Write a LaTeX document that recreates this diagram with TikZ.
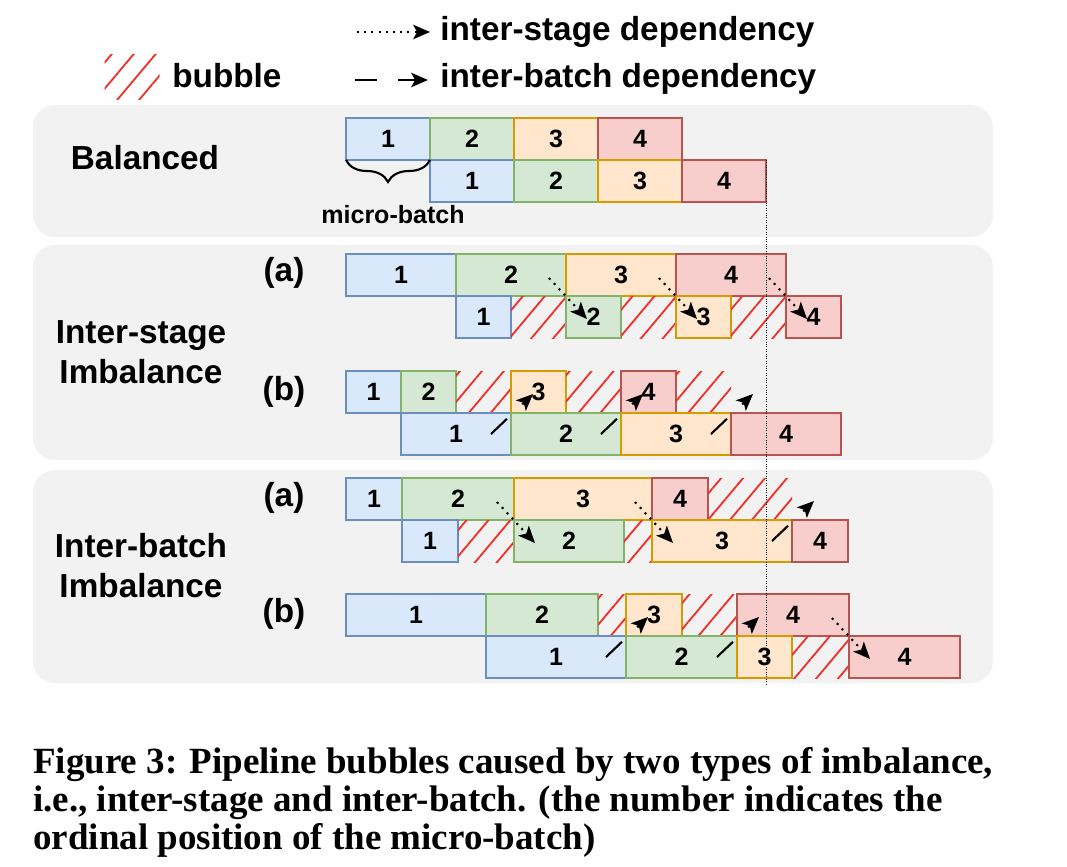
\documentclass[tikz,border=0pt]{standalone}
\usepackage{fontspec}
\setmainfont{Liberation Sans}
\newfontfamily\capfont{Liberation Serif}
\usetikzlibrary{positioning,arrows.meta,patterns.meta,decorations.pathreplacing}
\definecolor{panelgray}{HTML}{F2F2F2}
\definecolor{bluefill}{HTML}{DAE8FC}
\definecolor{blueline}{HTML}{6C8EBF}
\definecolor{greenfill}{HTML}{D5E8D4}
\definecolor{greenline}{HTML}{82B366}
\definecolor{orangefill}{HTML}{FFE6CC}
\definecolor{orangeline}{HTML}{D79B00}
\definecolor{redfill}{HTML}{F8CECC}
\definecolor{redline}{HTML}{B85450}
\definecolor{hatchred}{HTML}{F0302A}
\tikzstyle{mb}=[draw, line width=1.6pt, minimum height=1.05cm, inner sep=0pt,
outer sep=0pt, font=\fontsize{17.8}{20}\selectfont\bfseries]
\tikzstyle{mbblue}=[mb, draw=blueline, fill=bluefill]
\tikzstyle{mbgreen}=[mb, draw=greenline, fill=greenfill]
\tikzstyle{mborange}=[mb, draw=orangeline, fill=orangefill]
\tikzstyle{mbred}=[mb, draw=redline, fill=redfill]
\tikzstyle{bubble}=[minimum height=1.05cm, inner sep=0pt, outer sep=0pt,
pattern={Lines[angle=50,distance=0.42cm,line width=1.3pt]}, pattern color=hatchred]
\tikzstyle{lbl}=[inner sep=0pt, font=\fontsize{23.7}{28.4}\selectfont\bfseries]
\tikzstyle{isdep}=[line width=1.5pt, dash pattern=on 0.05cm off 0.13cm,
-{Stealth[length=0.42cm,width=0.36cm,inset=0.1cm]}]
\tikzstyle{ibdep}=[line width=1.5pt, dash pattern=on 0.55cm off 0.525cm,
-{Stealth[length=0.42cm,width=0.36cm,inset=0.1cm]}]
\tikzstyle{vline}=[line width=0.7pt, densely dotted]
\tikzset{wd/.style={minimum width=#1*0.025cm}}

\begin{document}
\begin{tikzpicture}[x=0.025cm, y=-0.025cm]
            \useasboundingbox (0,0) rectangle (1067,867);

            % panels
            \fill[panelgray, rounded corners=0.55cm] (33,105) rectangle (993,237);
            \fill[panelgray, rounded corners=0.55cm] (33,245) rectangle (993,460);
            \fill[panelgray, rounded corners=0.55cm] (33,470) rectangle (993,683);

            % legend
            \node[bubble, wd=55, minimum height=1.125cm] (lgH) at (132,77) {};
            \node[lbl, anchor=base west] (lgB) at (172,88) {bubble};
            \node[lbl, anchor=base west] (lgS) at (440,41) {inter-stage dependency};
            \node[lbl, anchor=base west] (lgI) at (440,88) {inter-batch dependency};
            \coordinate (lgS0) at (357,32);
            \coordinate (lgI0) at (355,80);
            \path[isdep] (lgS0) edge ([shift={(-10,0)}]lgS.west |- lgS0);
            \path[ibdep] (lgI0) edge ([shift={(-12,0)}]lgI.west |- lgI0);

            % row labels
            \node[lbl] (lBal) at (145,158) {Balanced};
            \node[lbl, align=center] (lIS) at (141,352) {Inter-stage\\Imbalance};
            \node[lbl, align=center] (lIB) at (141,566) {Inter-batch\\Imbalance};
            \node[lbl] (lISa) at (284,273) {(a)};
            \node[lbl] (lISb) at (284,392) {(b)};
            \node[lbl] (lIBa) at (284,498) {(a)};
            \node[lbl] (lIBb) at (284,614) {(b)};

            % Balanced PART

            \node[mbblue, wd=84, anchor=north west] (bA1) at (346,118) {1};
            \node[mbgreen, wd=84, right=0pt of bA1] (bA2) {2};
            \node[mborange, wd=84, right=0pt of bA2] (bA3) {3};
            \node[mbred, wd=84, right=0pt of bA3] (bA4) {4};
            \node[mbblue, wd=84, below right=0pt and 0pt of bA1] (bB1) {1};
            \node[mbgreen, wd=84, right=0pt of bB1] (bB2) {2};
            \node[mborange, wd=84, right=0pt of bB2] (bB3) {3};
            \node[mbred, wd=84, right=0pt of bB3] (bB4) {4};

            \draw[line width=1.5pt, decorate, decoration={brace, amplitude=0.55cm}]
                (bA1.south east) -- (bA1.south west);
            \node[font=\fontsize{17.8}{20}\selectfont\bfseries] (mbtxt) at (393,215) {micro-batch};

            % Inter-stage (a) PART

            \node[mbblue, wd=110, anchor=north west] (isaA1) at (346,254) {1};
            \node[mbgreen, wd=110, right=0pt of isaA1] (isaA2) {2};
            \node[mborange, wd=110, right=0pt of isaA2] (isaA3) {3};
            \node[mbred, wd=110, right=0pt of isaA3] (isaA4) {4};
            \node[mbblue, wd=55, below right=0pt and 0pt of isaA1] (isaB1) {1};
            \node[bubble, wd=55, right=0pt of isaB1] (isaH1) {};
            \node[mbgreen, wd=55, right=0pt of isaH1] (isaB2) {2};
            \node[bubble, wd=55, right=0pt of isaB2] (isaH2) {};
            \node[mborange, wd=55, right=0pt of isaH2] (isaB3) {3};
            \node[bubble, wd=55, right=0pt of isaB3] (isaH3) {};
            \node[mbred, wd=55, right=0pt of isaH3] (isaB4) {4};

            % Inter-stage (b) PART

            \node[mbblue, wd=55, anchor=north west] (isbA1) at (346,371) {1};
            \node[mbgreen, wd=55, right=0pt of isbA1] (isbA2) {2};
            \node[bubble, wd=55, right=0pt of isbA2] (isbH1) {};
            \node[mborange, wd=55, right=0pt of isbH1] (isbA3) {3};
            \node[bubble, wd=55, right=0pt of isbA3] (isbH2) {};
            \node[mbred, wd=55, right=0pt of isbH2] (isbA4) {4};
            \node[bubble, wd=55, right=0pt of isbA4] (isbH3) {};
            \node[mbblue, wd=110, below right=0pt and 0pt of isbA1] (isbB1) {1};
            \node[mbgreen, wd=110, right=0pt of isbB1] (isbB2) {2};
            \node[mborange, wd=110, right=0pt of isbB2] (isbB3) {3};
            \node[mbred, wd=110, right=0pt of isbB3] (isbB4) {4};

            % Inter-batch (a) PART

            \node[mbblue, wd=56, anchor=north west] (ibaA1) at (346,478) {1};
            \node[mbgreen, wd=112, right=0pt of ibaA1] (ibaA2) {2};
            \node[mborange, wd=138, right=0pt of ibaA2] (ibaA3) {3};
            \node[mbred, wd=56, right=0pt of ibaA3] (ibaA4) {4};
            \node[bubble, wd=84, right=0pt of ibaA4] (ibaH1) {};
            \node[mbblue, wd=56, below right=0pt and 0pt of ibaA1] (ibaB1) {1};
            \node[bubble, wd=56, right=0pt of ibaB1] (ibaH2) {};
            \node[mbgreen, wd=110, right=0pt of ibaH2] (ibaB2) {2};
            \node[bubble, wd=28, right=0pt of ibaB2] (ibaH3) {};
            \node[mborange, wd=140, right=0pt of ibaH3] (ibaB3) {3};
            \node[mbred, wd=56, right=0pt of ibaB3] (ibaB4) {4};

            % Inter-batch (b) PART

            \node[mbblue, wd=140, anchor=north west] (ibbA1) at (346,594) {1};
            \node[mbgreen, wd=112, right=0pt of ibbA1] (ibbA2) {2};
            \node[bubble, wd=28, right=0pt of ibbA2] (ibbH1) {};
            \node[mborange, wd=56, right=0pt of ibbH1] (ibbA3) {3};
            \node[bubble, wd=55, right=0pt of ibbA3] (ibbH2) {};
            \node[mbred, wd=112, right=0pt of ibbH2] (ibbA4) {4};
            \node[mbblue, wd=140, below right=0pt and 0pt of ibbA1] (ibbB1) {1};
            \node[mbgreen, wd=111, right=0pt of ibbB1] (ibbB2) {2};
            \node[mborange, wd=55, right=0pt of ibbB2] (ibbB3) {3};
            \node[bubble, wd=57, right=0pt of ibbB3] (ibbH3) {};
            \node[mbred, wd=111, right=0pt of ibbH3] (ibbB4) {4};

            % time line
            \coordinate (vEnd) at (765,684);
            \draw[vline] (bB4.north east) -- (bB4.north east |- vEnd);

            % inter-stage dependencies
            \path[isdep] ([shift={(-17,-18)}]isaA2.south east) edge ([shift={(21,23)}]isaB2.north west);
            \path[isdep] ([shift={(-17,-18)}]isaA3.south east) edge ([shift={(21,23)}]isaB3.north west);
            \path[isdep] ([shift={(-17,-18)}]isaA4.south east) edge ([shift={(21,23)}]isaB4.north west);
            \path[isdep] ([shift={(-17,-18)}]ibaA2.south east) edge ([shift={(21,23)}]ibaB2.north west);
            \path[isdep] ([shift={(-17,-18)}]ibaA3.south east) edge ([shift={(21,23)}]ibaB3.north west);
            \path[isdep] ([shift={(-17,-18)}]ibbA4.south east) edge ([shift={(21,23)}]ibbB4.north west);

            % inter-batch dependencies
            \path[ibdep] ([shift={(-20,21)}]isbB1.north east) edge ([shift={(22,-19)}]isbA3.south west);
            \path[ibdep] ([shift={(-20,21)}]isbB2.north east) edge ([shift={(22,-19)}]isbA4.south west);
            \path[ibdep] ([shift={(-20,21)}]isbB3.north east) edge ([shift={(22,-19)}]isbH3.south east);
            \path[ibdep] ([shift={(-20,21)}]ibaB3.north east) edge ([shift={(22,-19)}]ibaH1.south east);
            \path[ibdep] ([shift={(-20,21)}]ibbB1.north east) edge ([shift={(22,-19)}]ibbA3.south west);
            \path[ibdep] ([shift={(-20,21)}]ibbB2.north east) edge ([shift={(22,-19)}]ibbA4.south west);

            % caption
            \node[anchor=north west, align=left, inner sep=0pt,
                font=\capfont\bfseries\fontsize{26.3}{27}\selectfont] (cap) at (33,747)
                {Figure 3: Pipeline bubbles caused by two types of imbalance,\\
                 i.e., inter-stage and inter-batch. (the number indicates the\\
                 ordinal position of the micro-batch)};

\end{tikzpicture}
\end{document}
